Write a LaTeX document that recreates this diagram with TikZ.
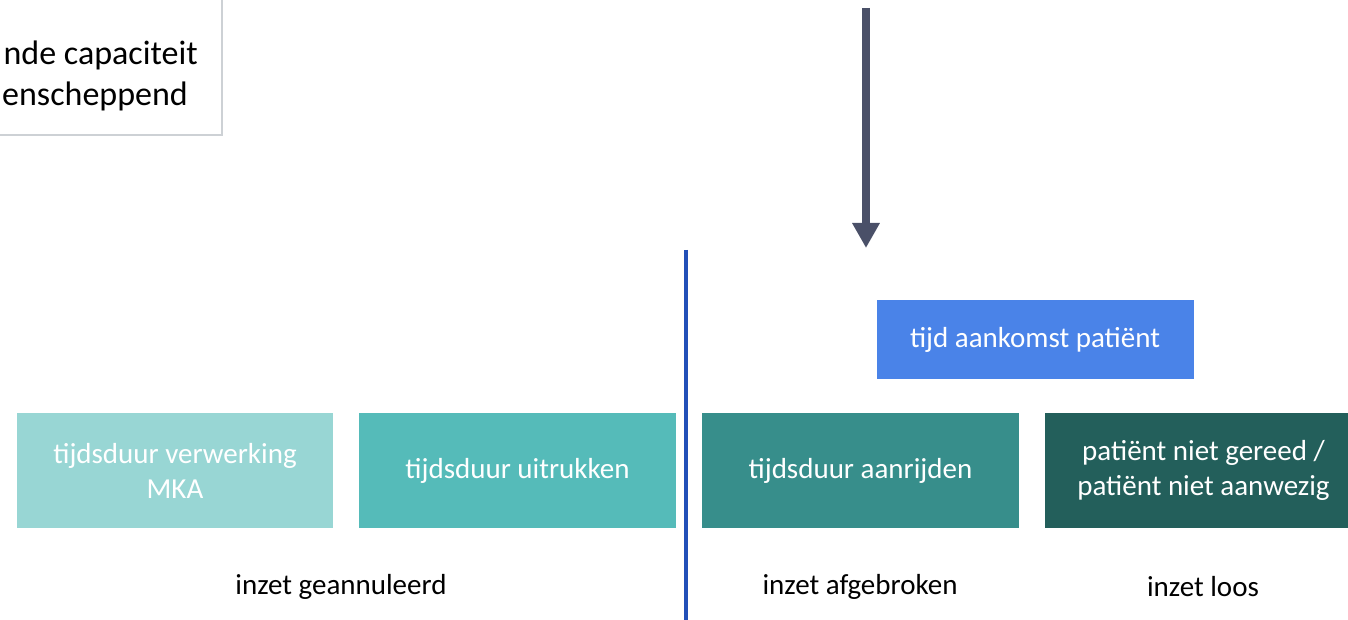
\documentclass[tikz,border=0pt]{standalone}
\usepackage{fontspec}
\setmainfont{Carlito}
\usetikzlibrary{positioning,arrows.meta}

\definecolor{tealA}{HTML}{98D6D4}
\definecolor{tealB}{HTML}{55BBB9}
\definecolor{tealC}{HTML}{378E8B}
\definecolor{tealD}{HTML}{235F5B}
\definecolor{blueBox}{HTML}{4A83E8}
\definecolor{blueLine}{HTML}{2250B8}
\definecolor{slate}{HTML}{4A5068}
\definecolor{frameGray}{HTML}{CDD1D5}

\begin{document}
\begin{tikzpicture}[x=1pt,y=-1pt]
\tikzset{B/.style={rectangle,inner sep=0pt,minimum width=317pt,minimum height=115pt,
  text=white,align=center,font=\fontsize{29}{35}\selectfont}}
\tikzset{L/.style={inner sep=0pt,font=\fontsize{29}{35}\selectfont}}

  \fill[white] (0,0) rectangle (1348,620);
  \useasboundingbox (0,0) rectangle (1348,620);

  % box cut off at the top left
  \node[draw=frameGray,line width=2pt,minimum width=300pt,minimum height=160pt] (kader) at (72,55) {};
  \node[L,anchor=east,font=\fontsize{34}{41}\selectfont] (k1) at (198,55) {nde capaciteit};
  \node[L,anchor=east,font=\fontsize{34}{41}\selectfont] (k2) at (188,96) {enscheppend};

  % arrow from above
  \coordinate (pijlA) at (866,8);
  \coordinate (pijlB) at (866,248);
  \draw[slate,line width=8pt,-{Triangle[width=26pt,length=25pt]}] (pijlA) -- (pijlB);

  % dividing line
  \coordinate (grensA) at (686,250);
  \coordinate (grensB) at (686,620);
  \draw[blueLine,line width=3.5pt] (grensA) -- (grensB);

  \node[B,fill=tealA,minimum width=316pt] (mka) at (175,470.5) {tijdsduur verwerking\\MKA};
  \node[B,fill=tealB] (uitr) at (517.5,470.5) {tijdsduur uitrukken};
  \node[B,fill=tealC] (aanr) at (860.5,470.5) {tijdsduur aanrijden};
  \node[B,fill=tealD] (loos) at (1203.5,470.5) {patiënt niet gereed /\\patiënt niet aanwezig};
  \node[B,fill=blueBox,minimum height=79pt] (aank) at (1035,339.5) {tijd aankomst patiënt};

  \node[L] (l1) at (341,587) {inzet geannuleerd};
  \node[L] (l2) at (860,587) {inzet afgebroken};
  \node[L] (l3) at (1203,587) {inzet loos};
\end{tikzpicture}
\end{document}
